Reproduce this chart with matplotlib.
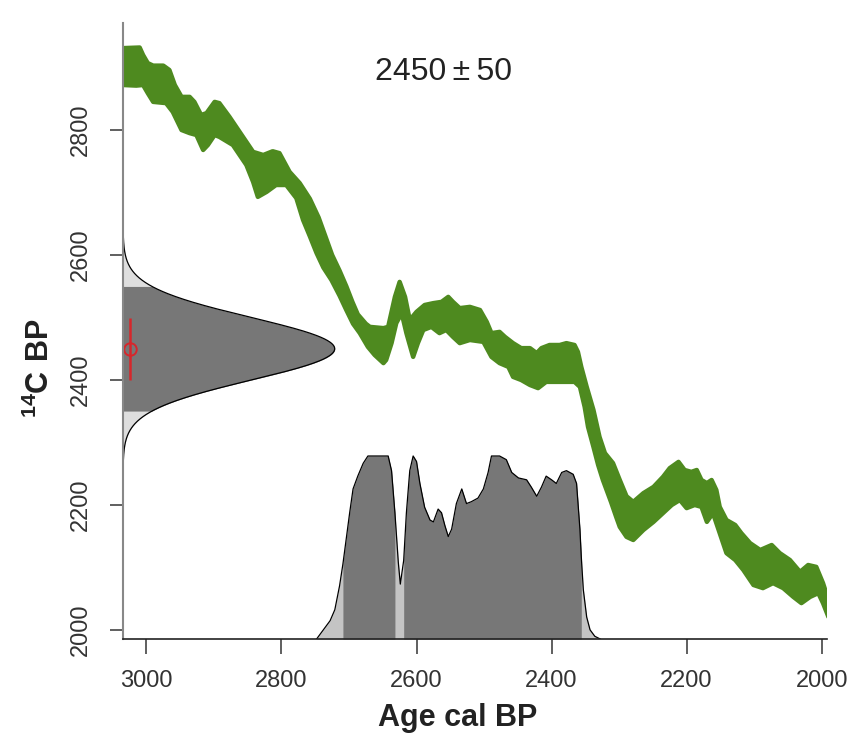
import numpy as np
import matplotlib
matplotlib.use('Agg')
import matplotlib.pyplot as plt

plt.rcParams['font.family'] = ['Liberation Sans', 'DejaVu Sans']
plt.rcParams['mathtext.fontset'] = 'custom'
plt.rcParams['mathtext.rm'] = 'Liberation Sans'
plt.rcParams['mathtext.bf'] = 'Liberation Sans:bold'

# measured radiocarbon age
c14_mean = 2450
c14_err = 50

# calibration curve band: upper edge (age cal BP, 14C BP)
upper_age = [3035, 3010, 3005, 2998, 2990, 2975, 2966, 2958, 2948, 2936, 2929, 2919, 2911,
             2899, 2892, 2877, 2862, 2842, 2827, 2813, 2803, 2788, 2773, 2758, 2745, 2735,
             2725, 2714, 2704, 2695, 2687, 2675, 2669, 2649, 2642, 2632, 2625, 2617, 2610, 2600,
             2588, 2575, 2563, 2553, 2546, 2536, 2521, 2506, 2496, 2489, 2477, 2469, 2457,
             2445, 2432, 2422, 2415, 2403, 2388, 2378, 2366, 2361, 2356, 2348, 2338, 2329,
             2321, 2309, 2299, 2289, 2279, 2264, 2249, 2235, 2225, 2212, 2203, 2193, 2185,
             2178, 2170, 2163, 2156, 2151, 2141, 2128, 2119, 2106, 2091, 2074, 2062, 2047,
             2032, 2020, 2008, 1998, 1990]
upper_c14 = [2931, 2932, 2920, 2907, 2903, 2903, 2896, 2872, 2853, 2853, 2845, 2824, 2827,
             2845, 2843, 2821, 2797, 2765, 2760, 2766, 2763, 2733, 2715, 2690, 2660, 2630,
             2600, 2575, 2550, 2525, 2505, 2490, 2485, 2483, 2485, 2533, 2557, 2533, 2496, 2509,
             2520, 2523, 2525, 2533, 2525, 2515, 2517, 2512, 2493, 2475, 2477, 2469, 2459,
             2451, 2451, 2443, 2451, 2456, 2456, 2459, 2456, 2445, 2421, 2389, 2352, 2309,
             2283, 2267, 2240, 2214, 2205, 2219, 2229, 2245, 2259, 2269, 2256, 2253, 2256,
             2240, 2235, 2240, 2224, 2197, 2176, 2168, 2155, 2139, 2128, 2136, 2123, 2112,
             2093, 2104, 2101, 2075, 2048]

# calibration curve band: lower edge
lower_age = [3035, 3015, 3005, 2998, 2990, 2971, 2961, 2948, 2936, 2926, 2916, 2909, 2899,
             2892, 2872, 2852, 2842, 2835, 2822, 2808, 2793, 2778, 2768, 2758, 2748, 2738,
             2726, 2714, 2704, 2694, 2684, 2672, 2662, 2649, 2645, 2637, 2630, 2622, 2615,
             2605, 2598, 2590, 2578, 2566, 2556, 2546, 2536, 2521, 2501, 2489, 2477, 2464,
             2457, 2445, 2432, 2420, 2408, 2393, 2378, 2366, 2358, 2351, 2346, 2338, 2331,
             2324, 2312, 2304, 2299, 2289, 2279, 2264, 2249, 2235, 2222, 2210, 2200, 2188,
             2178, 2170, 2161, 2151, 2141, 2128, 2116, 2101, 2087, 2072, 2057, 2042, 2030,
             2017, 2005, 1998, 1990]
lower_c14 = [2872, 2871, 2872, 2859, 2845, 2843, 2829, 2800, 2795, 2792, 2768, 2776, 2792,
             2789, 2776, 2744, 2717, 2693, 2701, 2712, 2712, 2691, 2656, 2630, 2603, 2580,
             2560, 2535, 2512, 2490, 2475, 2453, 2440, 2427, 2432, 2459, 2491, 2507, 2475,
             2437, 2459, 2480, 2485, 2475, 2480, 2469, 2459, 2464, 2461, 2437, 2427, 2421,
             2405, 2400, 2392, 2387, 2397, 2397, 2397, 2397, 2389, 2357, 2325, 2293, 2264,
             2240, 2205, 2180, 2165, 2149, 2144, 2160, 2173, 2187, 2200, 2208, 2195, 2200,
             2197, 2173, 2187, 2155, 2123, 2112, 2096, 2072, 2067, 2075, 2067, 2053, 2043,
             2053, 2059, 2043, 2021]

# calibrated age distribution (relative probability)
cal_age = [2748, 2738, 2728, 2721, 2714, 2709, 2699, 2694, 2687, 2679, 2672, 2654, 2642,
           2637, 2632, 2627, 2624, 2619, 2615, 2610, 2605, 2600, 2595, 2588, 2580, 2575,
           2568, 2563, 2558, 2553, 2548, 2541, 2533, 2526, 2519, 2509, 2501, 2494, 2489,
           2477, 2467, 2459, 2449, 2437, 2430, 2422, 2415, 2408, 2400, 2393, 2385, 2378,
           2368, 2363, 2358, 2356, 2353, 2348, 2343, 2336, 2328]
cal_prob = [0.0, 0.05, 0.1, 0.16, 0.29, 0.41, 0.69, 0.82, 0.89, 0.96, 1.0, 1.0, 1.0,
            0.92, 0.69, 0.42, 0.3, 0.43, 0.69, 0.92, 1.0, 0.97, 0.85, 0.72, 0.65, 0.64,
            0.71, 0.69, 0.62, 0.56, 0.6, 0.74, 0.82, 0.74, 0.75, 0.77, 0.82, 0.91, 1.0,
            1.0, 0.98, 0.91, 0.88, 0.87, 0.83, 0.78, 0.83, 0.89, 0.87, 0.85, 0.91, 0.92,
            0.9, 0.85, 0.6, 0.45, 0.27, 0.12, 0.05, 0.015, 0.0]

# 95% ranges of the calibrated age
hpd_ranges = [(2709, 2632), (2619, 2356)]

green = '#4e8a1f'
dark = '#777777'
light_cal = '#c4c4c4'
light_g = '#dedede'
txt = '#333333'

fig = plt.figure(figsize=(8.52, 7.33), dpi=100)
ax = fig.add_axes([123 / 852, 1 - 639 / 733, 704 / 852, 616 / 733])
axd = ax.twinx()   # calibrated distribution
axg = ax.twiny()   # measured 14C distribution
ax.set_zorder(axg.get_zorder() + 2)
ax.patch.set_visible(False)

# calibrated distribution
cal_age = np.array(cal_age)
cal_prob = np.array(cal_prob)
axd.fill_between(cal_age, 0, cal_prob, color=light_cal, lw=0)
for a1, a2 in hpd_ranges:
    m = (cal_age <= a1) & (cal_age >= a2)
    axd.fill_between(cal_age, 0, cal_prob, where=m, color=dark, lw=0)
axd.plot(cal_age, cal_prob, color='black', lw=0.9)
axd.set_ylim(0, 616 / 183)
axd.set_axis_off()

# measured 14C age as normal distribution
c14 = np.linspace(c14_mean - 3.6 * c14_err, c14_mean + 3.6 * c14_err, 400)
dens = np.exp(-0.5 * ((c14 - c14_mean) / c14_err) ** 2)
axg.fill_betweenx(c14, 0, dens, color=light_g, lw=0)
inside = np.abs(c14 - c14_mean) <= 2 * c14_err
axg.fill_betweenx(c14, 0, dens, where=inside, color=dark, lw=0)
axg.plot(dens, c14, color='black', lw=0.9)
axg.set_xlim(0, 704 / 211.7)
axg.set_axis_off()

# calibration curve
ax.fill(np.r_[upper_age, lower_age[::-1]], np.r_[upper_c14, lower_c14[::-1]],
        facecolor=green, edgecolor=green, lw=3.2, joinstyle='round')

# measured age with error bar
ax.errorbar([3024], [c14_mean], yerr=[c14_err], fmt='o', ms=9, mfc='none',
            mec='#d7262b', mew=1.4, ecolor='#d7262b', elinewidth=1.8, capsize=0)

ax.text(2560, 2893, '2450\u2009±\u200950', fontsize=23, color='#222222',
        ha='center', va='center')

ax.set_xlim(3034.7, 1992.1)
ax.set_ylim(1985.6, 2971.2)
ax.set_xticks([3000, 2800, 2600, 2400, 2200, 2000])
ax.set_yticks([2000, 2200, 2400, 2600, 2800])
ax.spines['top'].set_visible(False)
ax.spines['right'].set_visible(False)
ax.spines['left'].set_color('#888888')
ax.spines['left'].set_linewidth(1.5)
ax.spines['bottom'].set_color('#222222')
ax.spines['bottom'].set_linewidth(1.2)
ax.tick_params(axis='x', length=11, width=1.2, color='#444444', pad=11,
               labelsize=17, labelcolor=txt)
ax.tick_params(axis='y', length=9.5, width=1.2, color='#444444', pad=13,
               labelsize=17, labelcolor=txt)
plt.setp(ax.get_yticklabels(), rotation=90, va='center')

ax.set_xlabel('Age cal BP', fontsize=22, fontweight='bold', color='#222222')
ax.xaxis.label.set_va('center')
ax.xaxis.set_label_coords((458 - 123) / 704, -0.128)
ax.set_ylabel(r'$\mathbf{^{14}C\ BP}$', fontsize=22, color='#222222')
ax.yaxis.label.set_va('center')
ax.yaxis.set_label_coords((40 - 123) / 704, 0.44)

fig.savefig('out.png', dpi=100)
